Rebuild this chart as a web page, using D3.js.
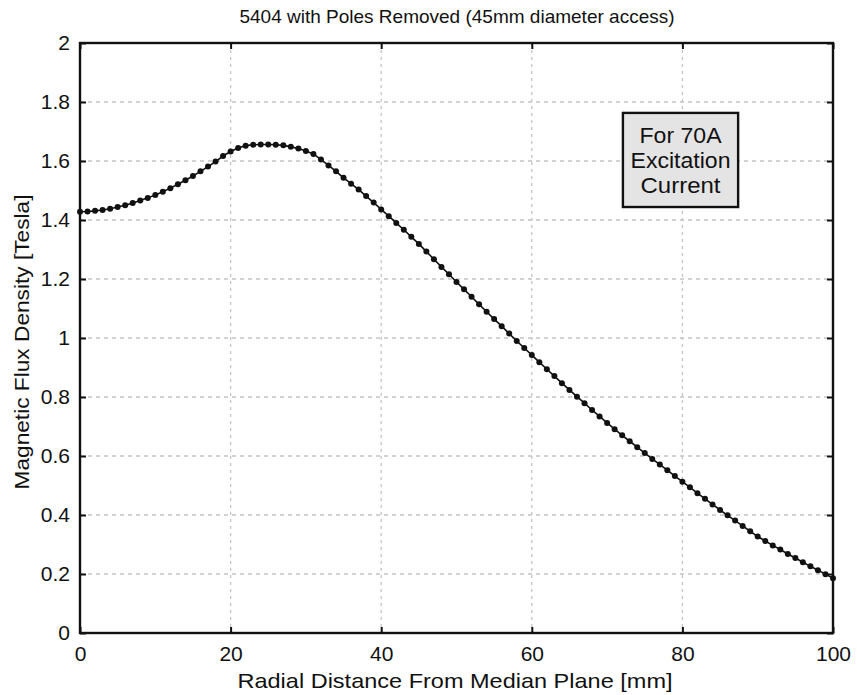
<!DOCTYPE html>
<html>
<head>
<meta charset="utf-8">
<script src="https://cdn.jsdelivr.net/npm/d3@7"></script>
<style>
  body { margin: 0; background: #fff; }
  text { font-family: "Liberation Sans", Arial, sans-serif; fill: #111; }
</style>
</head>
<body>
<script>
// radial distance in mm, one reading per mm
var distance = d3.range(0, 101);
// flux density in tesla
var flux = [
  1.428, 1.429, 1.431, 1.434, 1.438, 1.444, 1.450, 1.458, 1.466, 1.475,
  1.485, 1.496, 1.508, 1.521, 1.535, 1.549, 1.565, 1.581, 1.598, 1.617,
  1.632, 1.644, 1.652, 1.655, 1.656, 1.656, 1.655, 1.653, 1.648, 1.642,
  1.634, 1.624, 1.605, 1.585, 1.565, 1.543, 1.523, 1.503, 1.481, 1.459,
  1.436, 1.413, 1.390, 1.367, 1.343, 1.319, 1.293, 1.267, 1.241, 1.216,
  1.190, 1.165, 1.140, 1.114, 1.089, 1.064, 1.040, 1.015, 0.990, 0.966,
  0.942, 0.918, 0.894, 0.871, 0.847, 0.824, 0.801, 0.779, 0.756, 0.734,
  0.712, 0.691, 0.670, 0.650, 0.630, 0.610, 0.590, 0.571, 0.552, 0.532,
  0.513, 0.494, 0.474, 0.455, 0.436, 0.417, 0.399, 0.381, 0.363, 0.345,
  0.327, 0.312, 0.297, 0.283, 0.268, 0.254, 0.240, 0.226, 0.213, 0.199,
  0.186
];
var xTicks = [0, 20, 40, 60, 80, 100];
var yTicks = [0, 0.2, 0.4, 0.6, 0.8, 1, 1.2, 1.4, 1.6, 1.8, 2];
var noteLines = ["For 70A", "Excitation", "Current"];

var W = 857, H = 695;
var margin = {top: 43, right: 24, bottom: 62, left: 80};
var w = W - margin.left - margin.right;
var h = H - margin.top - margin.bottom;

var svg = d3.select("body").append("svg")
    .attr("width", W)
    .attr("height", H);

var g = svg.append("g")
    .attr("transform", "translate(" + margin.left + "," + margin.top + ")");

var x = d3.scaleLinear().domain([0, 100]).range([0, w]);
var y = d3.scaleLinear().domain([0, 2]).range([h, 0]);

// dotted grid
g.append("g").selectAll("line")
    .data(xTicks.slice(1, -1))
    .enter().append("line")
    .attr("x1", d => x(d)).attr("x2", d => x(d))
    .attr("y1", 0).attr("y2", h)
    .attr("stroke", "#c4c4c4")
    .attr("stroke-width", 1.3)
    .attr("stroke-dasharray", "3,4");

g.append("g").selectAll("line")
    .data(yTicks.slice(1, -1))
    .enter().append("line")
    .attr("x1", 0).attr("x2", w)
    .attr("y1", d => y(d)).attr("y2", d => y(d))
    .attr("stroke", "#c4c4c4")
    .attr("stroke-width", 1.6)
    .attr("stroke-dasharray", "4,4");

// axes with inward ticks
var fmt = d => d3.format("")(d);
var xAxis = g.append("g")
    .attr("transform", "translate(0," + h + ")")
    .call(d3.axisBottom(x).tickValues(xTicks).tickSizeInner(-6).tickSizeOuter(0).tickPadding(10).tickFormat(fmt));
var xTop = g.append("g")
    .call(d3.axisTop(x).tickValues(xTicks).tickSizeInner(-6).tickSizeOuter(0).tickFormat(""));
var yAxis = g.append("g")
    .call(d3.axisLeft(y).tickValues(yTicks).tickSizeInner(-6).tickSizeOuter(0).tickPadding(10).tickFormat(fmt));
var yRight = g.append("g")
    .attr("transform", "translate(" + w + ",0)")
    .call(d3.axisRight(y).tickValues(yTicks).tickSizeInner(-6).tickSizeOuter(0).tickFormat(""));

[xAxis, xTop, yAxis, yRight].forEach(function (a) {
    a.select(".domain").remove();
    a.selectAll(".tick line").attr("stroke", "#111").attr("stroke-width", 2);
    a.selectAll("text").attr("font-size", 21).attr("font-family", "Liberation Sans, Arial, sans-serif").attr("fill", "#111");
});
xAxis.selectAll("text").attr("dy", "0.85em");

// frame
g.append("rect")
    .attr("x", 0).attr("y", 0)
    .attr("width", w).attr("height", h)
    .attr("fill", "none")
    .attr("stroke", "#111")
    .attr("stroke-width", 2.4);

// data
g.append("path")
    .datum(flux)
    .attr("fill", "none")
    .attr("stroke", "#111")
    .attr("stroke-width", 1.6)
    .attr("d", d3.line().x((d, i) => x(distance[i])).y(d => y(d)));

g.append("g").selectAll("circle")
    .data(flux)
    .enter().append("circle")
    .attr("cx", (d, i) => x(distance[i]))
    .attr("cy", d => y(d))
    .attr("r", 3)
    .attr("fill", "#111");

// annotation box
var bx0 = x(72.1), bx1 = x(87.4), by0 = y(1.763), by1 = y(1.444);
g.append("rect")
    .attr("x", bx0).attr("y", by0)
    .attr("width", bx1 - bx0).attr("height", by1 - by0)
    .attr("fill", "#e4e4e4")
    .attr("stroke", "#111")
    .attr("stroke-width", 2.4);
g.append("g").selectAll("text")
    .data(noteLines)
    .enter().append("text")
    .attr("x", (bx0 + bx1) / 2)
    .attr("y", (d, i) => by0 + 30 + i * 25)
    .attr("text-anchor", "middle")
    .attr("font-size", 22)
    .attr("textLength", (d, i) => [82, 100, 80][i])
    .attr("lengthAdjust", "spacingAndGlyphs")
    .text(d => d);

// labels
svg.append("text")
    .attr("x", 457)
    .attr("y", 23)
    .attr("text-anchor", "middle")
    .attr("font-size", 19)
    .text("5404 with Poles Removed (45mm diameter access)");

svg.append("text")
    .attr("x", 455)
    .attr("y", 688)
    .attr("text-anchor", "middle")
    .attr("font-size", 21)
    .attr("textLength", 435)
    .attr("lengthAdjust", "spacingAndGlyphs")
    .text("Radial Distance From Median Plane [mm]");

svg.append("text")
    .attr("transform", "translate(29,342) rotate(-90)")
    .attr("text-anchor", "middle")
    .attr("font-size", 21)
    .attr("textLength", 295)
    .attr("lengthAdjust", "spacingAndGlyphs")
    .text("Magnetic Flux Density [Tesla]");
</script>
</body>
</html>
